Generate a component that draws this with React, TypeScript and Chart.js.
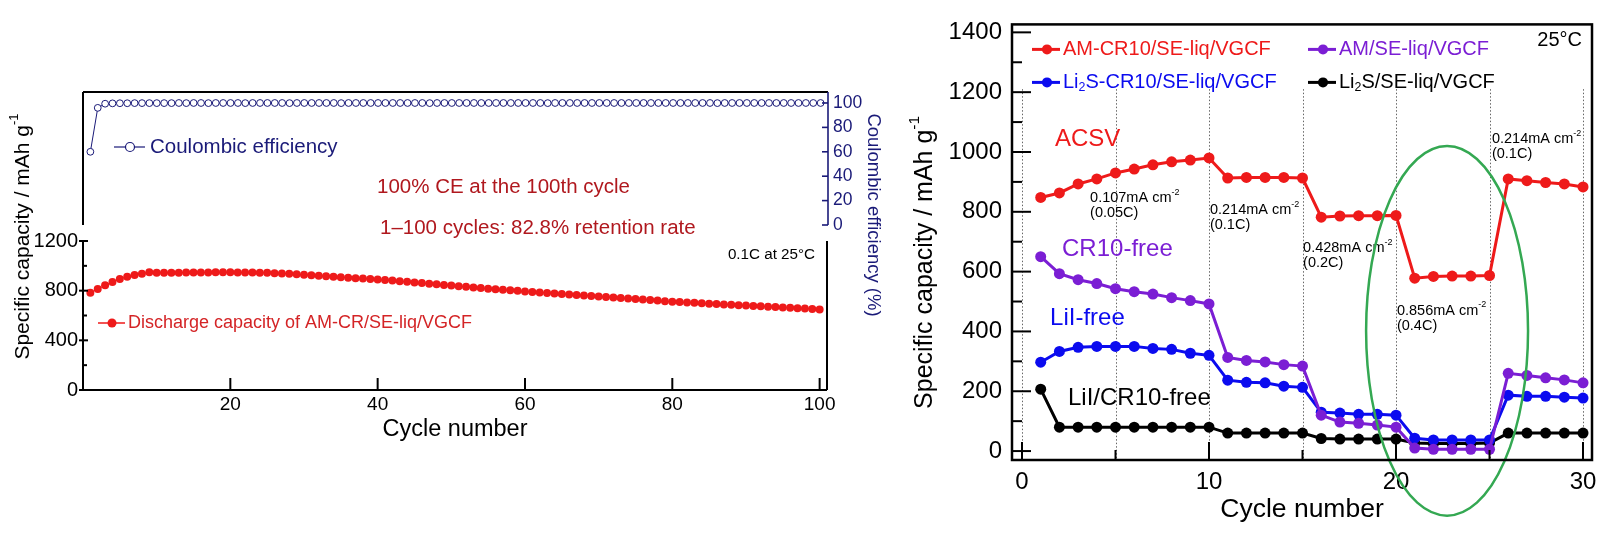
import React, { useEffect, useRef } from "react";
import { Chart, registerables } from "chart.js";

Chart.register(...registerables);

const FONT = "'Liberation Sans', Arial, Helvetica, sans-serif";
Chart.defaults.font.family = FONT;
Chart.defaults.color = "#000";

// ---------------- Left panel data ----------------
const dischargeCapacity = [
  784, 813, 843, 870, 894, 913, 926, 937, 948, 944,
  944, 945, 945, 946, 946, 947, 947, 948, 948, 948,
  947, 947, 946, 945, 944, 941, 939, 936, 933, 928,
  925, 921, 917, 913, 909, 905, 901, 897, 894, 890,
  886, 881, 876, 871, 866, 861, 856, 851, 846, 841,
  836, 831, 826, 821, 816, 812, 808, 803, 799, 794,
  790, 786, 782, 778, 774, 770, 766, 762, 758, 754,
  750, 745, 741, 737, 732, 728, 724, 720, 715, 711,
  708, 705, 702, 699, 695, 692, 689, 686, 683, 680,
  677, 674, 671, 668, 665, 662, 659, 656, 652, 649,
];

const coulombicEfficiency = [
  60, 96, 99.4, 99.7, 99.8, 99.8, 99.9, 99.9, 99.9, 99.9,
  99.9, 99.9, 100, 99.9, 100, 100, 99.9, 100, 100, 100,
  100, 99.9, 100, 100, 100, 100, 100, 99.9, 100, 100,
  100, 100, 100, 100, 99.9, 100, 100, 100, 100, 100,
  100, 100, 100, 100, 100, 100, 99.9, 100, 100, 100,
  100, 100, 100, 100, 100, 100, 100, 100, 100, 100,
  100, 100, 99.9, 100, 100, 100, 100, 100, 100, 100,
  100, 100, 100, 100, 100, 100, 100, 100, 100, 100,
  100, 100, 100, 100, 100, 99.9, 100, 100, 100, 100,
  100, 100, 100, 100, 100, 100, 100, 100, 100, 100,
];

const leftCapTicks = [0, 400, 800, 1200];
const leftCapMinorTicks = [200, 600, 1000];
const leftCycleTicks = [20, 40, 60, 80, 100];
const ceTicks = [0, 20, 40, 60, 80, 100];

const leftTexts = {
  yTitle: "Specific capacity / mAh g^{-1}",
  ceTitle: "Coulombic efficiency (%)",
  ceLegend: "Coulombic efficiency",
  capLegend: "Discharge capacity of AM-CR/SE-liq/VGCF",
  note1: "100% CE at the 100th cycle",
  note2: "1\u2013100 cycles: 82.8% retention rate",
  cond: "0.1C at 25\u00B0C",
  xTitle: "Cycle number",
};

// ---------------- Right panel data ----------------
const seriesNames = [
  "AM-CR10/SE-liq/VGCF",
  "AM/SE-liq/VGCF",
  "Li_{2}S-CR10/SE-liq/VGCF",
  "Li_{2}S/SE-liq/VGCF",
];
const amCr10 = [
  848, 863, 893, 910, 930, 943, 957, 967, 973, 980,
  913, 915, 915, 915, 913, 782, 786, 787, 787, 788,
  578, 584, 585, 585, 587, 910, 904, 898, 893, 883,
];
const amOnly = [
  650, 593, 573, 560, 543, 533, 525, 513, 503, 492,
  313, 303, 298, 289, 284, 120, 97, 93, 87, 80,
  10, 6, 6, 6, 6, 260, 253, 245, 238, 228,
];
const li2sCr10 = [
  297, 333, 347, 350, 350, 350, 343, 340, 327, 320,
  237, 230, 228, 217, 213, 130, 127, 123, 123, 120,
  43, 37, 37, 37, 37, 187, 183, 183, 180, 177,
];
const li2sOnly = [
  207, 80, 80, 80, 80, 80, 80, 80, 80, 80,
  60, 60, 60, 60, 60, 42, 40, 40, 40, 40,
  27, 25, 25, 25, 27, 60, 60, 60, 60, 60,
];

const rightCapTicks = [0, 200, 400, 600, 800, 1000, 1200, 1400];
const rightCapMinorTicks = [100, 300, 500, 700, 900, 1100, 1300];
const rightCycleTicks = [0, 10, 20, 30];
const rightCycleMinorTicks = [5, 15, 25];
const rateBoundaries = [0, 5, 10, 15, 20, 25, 30];

const rateAnnotations = [
  { x: 3.64, y: 845, rate: "0.107mA cm^{-2}", c: "(0.05C)" },
  { x: 10.05, y: 805, rate: "0.214mA cm^{-2}", c: "(0.1C)" },
  { x: 15.03, y: 678, rate: "0.428mA cm^{-2}", c: "(0.2C)" },
  { x: 20.05, y: 469, rate: "0.856mA cm^{-2}", c: "(0.4C)" },
  { x: 25.13, y: 1044, rate: "0.214mA cm^{-2}", c: "(0.1C)" },
];

const RED = "#ee1a1a";
const PURPLE = "#7b1ed4";
const BLUE = "#0b0bef";
const BLACK = "#000000";
const NAVY = "#1a1a78";
const DARKRED = "#b0181e";
const GREEN = "#34a852";

const seriesColors = [RED, PURPLE, BLUE, BLACK];
const seriesValues = [amCr10, amOnly, li2sCr10, li2sOnly];

const groupLabels = [
  { text: "ACSV", x: 1.76, y: 1041, color: RED },
  { text: "CR10-free", x: 2.14, y: 675, color: PURPLE },
  { text: "LiI-free", x: 1.5, y: 442, color: BLUE },
  { text: "LiI/CR10-free", x: 2.46, y: 176, color: BLACK },
];

// ---------------- helpers ----------------
type Part = { t: string; k: "n" | "sup" | "sub" };
function parseRich(s: string): Part[] {
  const parts: Part[] = [];
  const re = /(\^\{[^}]*\}|_\{[^}]*\})/g;
  let last = 0;
  let m: RegExpExecArray | null;
  while ((m = re.exec(s))) {
    if (m.index > last) parts.push({ t: s.slice(last, m.index), k: "n" });
    parts.push({ t: m[0].slice(2, -1), k: m[0][0] === "^" ? "sup" : "sub" });
    last = m.index + m[0].length;
  }
  if (last < s.length) parts.push({ t: s.slice(last), k: "n" });
  return parts;
}
function plain(s: string) {
  return parseRich(s).map((p) => p.t).join("");
}
function drawRich(
  ctx: CanvasRenderingContext2D,
  s: string,
  x: number,
  y: number,
  size: number,
  color: string,
  align: "left" | "center" | "right" = "left",
  rot = 0
) {
  const parts = parseRich(s);
  ctx.save();
  ctx.translate(x, y);
  ctx.rotate(rot);
  ctx.fillStyle = color;
  ctx.textBaseline = "middle";
  ctx.textAlign = "left";
  const fontFor = (p: Part) => `${p.k === "n" ? size : size * 0.62}px ${FONT}`;
  const ws = parts.map((p) => {
    ctx.font = fontFor(p);
    return ctx.measureText(p.t).width;
  });
  const total = ws.reduce((a, b) => a + b, 0);
  let cx = align === "left" ? 0 : align === "center" ? -total / 2 : -total;
  parts.forEach((p, i) => {
    ctx.font = fontFor(p);
    const dy = p.k === "sup" ? -size * 0.4 : p.k === "sub" ? size * 0.28 : 0;
    ctx.fillText(p.t, cx, dy);
    cx += ws[i];
  });
  ctx.restore();
}
function line(ctx: CanvasRenderingContext2D, x1: number, y1: number, x2: number, y2: number) {
  ctx.beginPath();
  ctx.moveTo(x1, y1);
  ctx.lineTo(x2, y2);
  ctx.stroke();
}
const setTicks = (vals: number[]) => (scale: any) => {
  scale.ticks = vals.map((v) => ({ value: v }));
};
const rawLabel = (v: any) => String(v);

// ---------------- plugins ----------------
const upperDeco = {
  id: "upperDeco",
  afterDraw(chart: any) {
    const { ctx, chartArea: a, scales } = chart;
    const y = scales.y;
    ctx.save();
    ctx.lineWidth = 2;
    ctx.strokeStyle = "#000";
    line(ctx, a.left, a.top, a.right, a.top);
    line(ctx, a.left, a.top, a.left, a.bottom);
    ctx.strokeStyle = NAVY;
    ctx.lineWidth = 1.6;
    line(ctx, a.right, a.top, a.right, a.bottom);
    for (const v of ceTicks) {
      const py = y.getPixelForValue(v);
      line(ctx, a.right - 6, py, a.right, py);
    }
    // CE legend
    const lx = a.left + 31;
    const ly = a.top + 55;
    ctx.lineWidth = 1.2;
    line(ctx, lx, ly, lx + 31, ly);
    ctx.beginPath();
    ctx.arc(lx + 16, ly, 4.5, 0, Math.PI * 2);
    ctx.fillStyle = "#fff";
    ctx.fill();
    ctx.stroke();
    ctx.restore();
    drawRich(ctx, leftTexts.ceLegend, lx + 36, ly, 20.5, NAVY);
    drawRich(ctx, leftTexts.note1, a.left + 294, a.top + 95, 20.5, DARKRED);
    drawRich(ctx, leftTexts.note2, a.left + 297, a.top + 136, 20.5, DARKRED);
    drawRich(ctx, leftTexts.ceTitle, a.right + 45, 215, 18.5, NAVY, "center", Math.PI / 2);
  },
};

const lowerDeco = {
  id: "lowerDeco",
  afterDraw(chart: any) {
    const { ctx, chartArea: a, scales } = chart;
    const { x, y } = scales;
    ctx.save();
    ctx.lineWidth = 2;
    ctx.strokeStyle = "#000";
    line(ctx, a.left, a.top, a.left, a.bottom);
    line(ctx, a.left, a.bottom, a.right, a.bottom);
    line(ctx, a.right, a.top, a.right, a.bottom);
    for (const v of leftCapTicks) {
      const py = y.getPixelForValue(v);
      line(ctx, a.left - 4, py, a.left + 5, py);
    }
    for (const v of leftCapMinorTicks) {
      const py = y.getPixelForValue(v);
      line(ctx, a.left, py, a.left + 4, py);
    }
    for (const v of leftCycleTicks) {
      const px = x.getPixelForValue(v);
      line(ctx, px, a.bottom, px, a.bottom - 12);
    }
    // discharge legend
    const lx = a.left + 15;
    const ly = a.top + 82;
    ctx.strokeStyle = RED;
    ctx.lineWidth = 1.5;
    line(ctx, lx, ly, lx + 27, ly);
    ctx.beginPath();
    ctx.arc(lx + 14, ly, 4.5, 0, Math.PI * 2);
    ctx.fillStyle = RED;
    ctx.fill();
    ctx.restore();
    drawRich(ctx, leftTexts.capLegend, lx + 30, ly, 18, "#d42426");
    drawRich(ctx, leftTexts.cond, a.right - 12, a.top + 14, 15.2, "#000", "right");
    drawRich(ctx, leftTexts.yTitle, 23, 236.5, 21, "#000", "center", -Math.PI / 2);
  },
};

const rightDeco = {
  id: "rightDeco",
  beforeDatasetsDraw(chart: any) {
    const { ctx, chartArea: a, scales } = chart;
    const { x, y } = scales;
    ctx.save();
    ctx.strokeStyle = "#666";
    ctx.lineWidth = 1;
    ctx.setLineDash([1.5, 2]);
    const top = y.getPixelForValue(1210);
    for (const b of rateBoundaries) {
      const px = Math.round(x.getPixelForValue(b)) + 0.5;
      line(ctx, px, top, px, a.bottom);
    }
    ctx.restore();
    // annotations
    for (const an of rateAnnotations) {
      const px = x.getPixelForValue(an.x);
      const py = y.getPixelForValue(an.y);
      drawRich(ctx, an.rate, px, py, 14.5, "#000");
      drawRich(ctx, an.c, px, py + 15, 14.5, "#000");
    }
    for (const g of groupLabels) {
      drawRich(ctx, g.text, x.getPixelForValue(g.x), y.getPixelForValue(g.y), 24, g.color);
    }
  },
  afterDatasetsDraw(chart: any) {
    const { ctx, scales } = chart;
    const { x, y } = scales;
    const cx = x.getPixelForValue(22.73);
    const cy = y.getPixelForValue(402);
    const rx = x.getPixelForValue(22.73 + 4.33) - cx;
    const ry = cy - y.getPixelForValue(402 + 618);
    ctx.save();
    ctx.strokeStyle = GREEN;
    ctx.lineWidth = 2.5;
    ctx.beginPath();
    ctx.ellipse(cx, cy, rx, ry, 0, 0, Math.PI * 2);
    ctx.stroke();
    ctx.restore();
  },
  afterDraw(chart: any) {
    const { ctx, chartArea: a, scales } = chart;
    const { x, y } = scales;
    ctx.save();
    ctx.strokeStyle = "#000";
    ctx.lineWidth = 2.5;
    ctx.strokeRect(a.left, a.top, a.right - a.left, a.bottom - a.top);
    ctx.lineWidth = 2;
    for (const v of rightCapTicks) {
      const py = y.getPixelForValue(v);
      line(ctx, a.left, py, a.left + 19, py);
    }
    for (const v of rightCapMinorTicks) {
      const py = y.getPixelForValue(v);
      line(ctx, a.left, py, a.left + 10, py);
    }
    for (const v of rightCycleTicks) {
      const px = x.getPixelForValue(v);
      line(ctx, px, a.bottom, px, a.bottom - 18);
    }
    for (const v of rightCycleMinorTicks) {
      const px = x.getPixelForValue(v);
      line(ctx, px, a.bottom, px, a.bottom - 10);
    }
    // legend
    const lx0 = a.left + 20;
    const ly0 = a.top + 25;
    seriesNames.forEach((name, i) => {
      const col = i % 2;
      const row = Math.floor(i / 2);
      const lx = lx0 + col * 276;
      const ly = ly0 + row * 33;
      ctx.strokeStyle = seriesColors[i];
      ctx.fillStyle = seriesColors[i];
      ctx.lineWidth = 3;
      line(ctx, lx, ly, lx + 28, ly);
      ctx.beginPath();
      ctx.arc(lx + 15, ly, 5, 0, Math.PI * 2);
      ctx.fill();
      drawRich(ctx, name, lx + 31, ly, 20, seriesColors[i]);
    });
    ctx.restore();
    drawRich(ctx, "25\u00B0C", a.right - 10, a.top + 16, 20, "#000", "right");
    drawRich(ctx, leftTexts.yTitle, a.left - 87, a.top + 238, 25, "#000", "center", -Math.PI / 2);
  },
};

// ---------------- configs ----------------
function upperConfig(): any {
  return {
    type: "line",
    data: {
      datasets: [
        {
          label: leftTexts.ceLegend,
          data: coulombicEfficiency.map((v, i) => ({ x: i + 1, y: v })),
          borderColor: NAVY,
          borderWidth: 1,
          pointRadius: 3.4,
          pointBorderWidth: 1,
          pointBorderColor: NAVY,
          pointBackgroundColor: "#fff",
        },
      ],
    },
    options: {
      animation: false,
      responsive: false,
      events: [],
      layout: { padding: { left: 83, top: 92, right: 725, bottom: 314 } },
      plugins: { legend: { display: false }, tooltip: { enabled: false } },
      scales: {
        x: { type: "linear", display: false, min: 0, max: 101 },
        y: {
          position: "right",
          min: 0,
          max: 109,
          afterBuildTicks: setTicks(ceTicks),
          afterFit: (s: any) => {
            s.width = 60;
          },
          grid: { display: false, drawTicks: false },
          border: { display: false },
          ticks: { padding: 5, color: NAVY, font: { size: 17.5 }, callback: rawLabel },
        },
      },
    },
    plugins: [upperDeco],
  };
}

function lowerConfig(): any {
  return {
    type: "line",
    data: {
      datasets: [
        {
          label: leftTexts.capLegend,
          data: dischargeCapacity.map((v, i) => ({ x: i + 1, y: v })),
          borderColor: RED,
          borderWidth: 1,
          pointRadius: 4,
          pointBorderWidth: 0,
          pointBackgroundColor: RED,
        },
      ],
    },
    options: {
      animation: false,
      responsive: false,
      events: [],
      layout: { padding: { left: 0, top: 241, right: 786, bottom: 0 } },
      plugins: { legend: { display: false }, tooltip: { enabled: false } },
      scales: {
        x: {
          type: "linear",
          min: 0,
          max: 101,
          afterBuildTicks: setTicks(leftCycleTicks),
          afterFit: (s: any) => {
            s.height = 149;
          },
          grid: { display: false, drawTicks: false },
          border: { display: false },
          ticks: { padding: 3, color: "#000", font: { size: 19 }, callback: rawLabel },
          title: {
            display: true,
            text: leftTexts.xTitle,
            color: "#000",
            font: { size: 23.5 },
            padding: { top: 0, bottom: 95 },
          },
        },
        y: {
          min: 0,
          max: 1200,
          afterBuildTicks: setTicks(leftCapTicks),
          afterFit: (s: any) => {
            s.width = 83;
          },
          grid: { display: false, drawTicks: false },
          border: { display: false },
          ticks: { padding: 5, color: "#000", font: { size: 20 }, callback: rawLabel },
        },
      },
    },
    plugins: [lowerDeco],
  };
}

function rightConfig(): any {
  const order = [0, 1, 2, 3];
  return {
    type: "line",
    data: {
      datasets: seriesValues.map((vals, i) => ({
        label: plain(seriesNames[i]),
        data: vals.map((v, j) => ({ x: j + 1, y: v })),
        borderColor: seriesColors[i],
        backgroundColor: seriesColors[i],
        pointBackgroundColor: seriesColors[i],
        borderWidth: 3,
        pointRadius: 5.5,
        pointBorderWidth: 0,
        order: order[i],
      })),
    },
    options: {
      animation: false,
      responsive: false,
      events: [],
      layout: { padding: { left: 912, top: 22, right: 21, bottom: 0 } },
      plugins: { legend: { display: false }, tooltip: { enabled: false } },
      scales: {
        x: {
          type: "linear",
          min: -0.535,
          max: 30.48,
          afterBuildTicks: setTicks(rightCycleTicks),
          afterFit: (s: any) => {
            s.height = 79;
          },
          grid: { display: false, drawTicks: false },
          border: { display: false },
          ticks: { padding: 8, color: "#000", font: { size: 24 }, callback: rawLabel },
          title: {
            display: true,
            text: leftTexts.xTitle,
            color: "#000",
            font: { size: 26.5 },
            padding: { top: 0, bottom: 13 },
          },
        },
        y: {
          min: -29.9,
          max: 1426.6,
          afterBuildTicks: setTicks(rightCapTicks),
          afterFit: (s: any) => {
            s.width = 100;
          },
          grid: { display: false, drawTicks: false },
          border: { display: false },
          ticks: { padding: 10, color: "#000", font: { size: 24 }, callback: rawLabel },
        },
      },
    },
    plugins: [rightDeco],
  };
}

export default function App() {
  const r1 = useRef<HTMLCanvasElement>(null);
  const r2 = useRef<HTMLCanvasElement>(null);
  const r3 = useRef<HTMLCanvasElement>(null);
  useEffect(() => {
    const charts = [
      new Chart(r1.current as HTMLCanvasElement, upperConfig()),
      new Chart(r2.current as HTMLCanvasElement, lowerConfig()),
      new Chart(r3.current as HTMLCanvasElement, rightConfig()),
    ];
    return () => charts.forEach((c) => c.destroy());
  }, []);
  const cs: React.CSSProperties = { position: "absolute", left: 0, top: 0, width: 1613, height: 539 };
  return (
    <div style={{ position: "absolute", left: 0, top: 0, width: 1613, height: 539, background: "#fff" }}>
      <canvas ref={r1} width={1613} height={539} style={cs} />
      <canvas ref={r2} width={1613} height={539} style={cs} />
      <canvas ref={r3} width={1613} height={539} style={cs} />
    </div>
  );
}
